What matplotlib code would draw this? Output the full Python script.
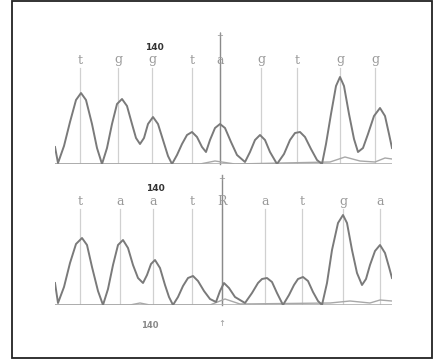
import matplotlib
matplotlib.use("Agg")
import matplotlib.pyplot as plt
from matplotlib.patches import Rectangle

# chromatogram traces (scan position, signal)
top_x = [55, 58, 64, 70, 76, 81, 86, 92, 97, 102, 107, 112, 117, 122, 127, 132, 136, 140, 144, 148,
         153, 158, 163, 168, 172, 177, 182, 187, 192, 197, 202, 206, 210, 215, 220, 225, 231, 237,
         245, 250, 255, 260, 265, 270, 277, 284, 290, 295, 300, 305, 311, 317, 322, 326, 331, 336,
         340, 344, 349, 354, 358, 363, 368, 374, 380, 385, 389, 392]
top_y = [17, 1, 18, 42, 64, 71, 64, 40, 16, 0, 16, 40, 60, 65, 58, 40, 26, 20, 26, 40,
         47, 40, 24, 8, 0, 9, 20, 29, 32, 27, 17, 12, 24, 36, 40, 36, 22, 9,
         2, 12, 24, 29, 24, 12, 0, 10, 24, 31, 32, 27, 15, 4, 0, 20, 50, 78,
         87, 78, 50, 25, 12, 16, 30, 48, 56, 48, 30, 16]
top_x2 = [55, 200, 215, 235, 330, 345, 360, 375, 385, 392]
top_y2 = [0, 0, 3, 0, 2, 7, 3, 2, 6, 5]
top_calls = [80, 118, 152, 192, 220, 261, 297, 340, 375]
top_bases = ["t", "g", "g", "t", "a", "g", "t", "g", "g"]

bot_x = [55, 58, 64, 70, 76, 82, 87, 92, 98, 103, 108, 113, 118, 123, 128, 133, 138, 143, 147, 151,
         155, 160, 165, 169, 173, 178, 183, 188, 193, 198, 204, 210, 216, 220, 224, 229, 235, 245,
         252, 258, 262, 267, 272, 277, 283, 289, 294, 298, 303, 308, 313, 318, 322, 327, 332, 338,
         343, 347, 352, 357, 362, 366, 370, 375, 380, 385, 389, 392]
bot_y = [22, 2, 18, 42, 61, 67, 60, 38, 14, 0, 16, 40, 60, 65, 57, 40, 27, 22, 30, 41,
         45, 37, 20, 8, 0, 8, 19, 27, 29, 24, 14, 6, 3, 14, 22, 17, 8, 2,
         12, 22, 26, 27, 23, 12, 0, 10, 20, 26, 28, 24, 13, 4, 0, 22, 55, 82,
         90, 82, 55, 32, 20, 26, 40, 54, 60, 52, 38, 27]
bot_x2 = [55, 130, 140, 150, 210, 225, 240, 330, 350, 370, 380, 392]
bot_y2 = [0, 0, 2, 0, 0, 6, 1, 2, 4, 2, 5, 4]
bot_calls = [80, 120, 153, 192, 222, 265, 302, 343, 380]
bot_bases = ["t", "a", "a", "t", "R", "a", "t", "g", "a"]

W, H = 435, 359
fig = plt.figure(figsize=(W / 100, H / 100), dpi=100)
fig.patch.set_facecolor("white")

# outer frame
fig.patches.append(Rectangle((12 / W, 0.002), 420 / W, 0.996, transform=fig.transFigure,
                             fill=False, edgecolor="#222222", lw=1.3))


def panel(base_px, xs, ys, xs2, ys2, calls, bases, mark_h):
    ax = fig.add_axes([55 / W, 1 - base_px / H, 337 / W, 130 / H])
    ax.set_xlim(55, 392)
    ax.set_ylim(0, 130)
    ax.axis("off")
    for c in calls:
        ax.plot([c, c], [0, 96], color="#d0d0d0", lw=0.9, zorder=1)
    ax.plot([calls[4], calls[4]], [0, mark_h], color="#8a8a8a", lw=1.0, zorder=1, clip_on=False)
    ax.axhline(0, color="#b0b0b0", lw=1.2, zorder=2)
    ax.plot(xs2, ys2, color="#a8a8a8", lw=1.0, zorder=3)
    ax.plot(xs, ys, color="#7a7a7a", lw=1.4, zorder=4)
    for c, b in zip(calls, bases):
        ax.text(c, 104, b, color="#9a9a9a", fontsize=9, ha="center", va="center",
                family="DejaVu Serif")
    ax.text(calls[2] + 2, 117, "140", color="#333333", fontsize=6.5, fontweight="bold",
            ha="center", va="center")
    ax.text(calls[4], mark_h - 3, "+", color="#999999", fontsize=6, ha="center", va="center",
            clip_on=False)
    return ax


panel(164, top_x, top_y, top_x2, top_y2, top_calls, top_bases, 131)
axb = panel(305, bot_x, bot_y, bot_x2, bot_y2, bot_calls, bot_bases, 130)
axb.text(150, -20, "140", color="#888888", fontsize=6, fontweight="bold", ha="center", va="center")
axb.text(222, -18, "\u2191", color="#999999", fontsize=6, ha="center", va="center")

fig.savefig("out.png", dpi=100)
